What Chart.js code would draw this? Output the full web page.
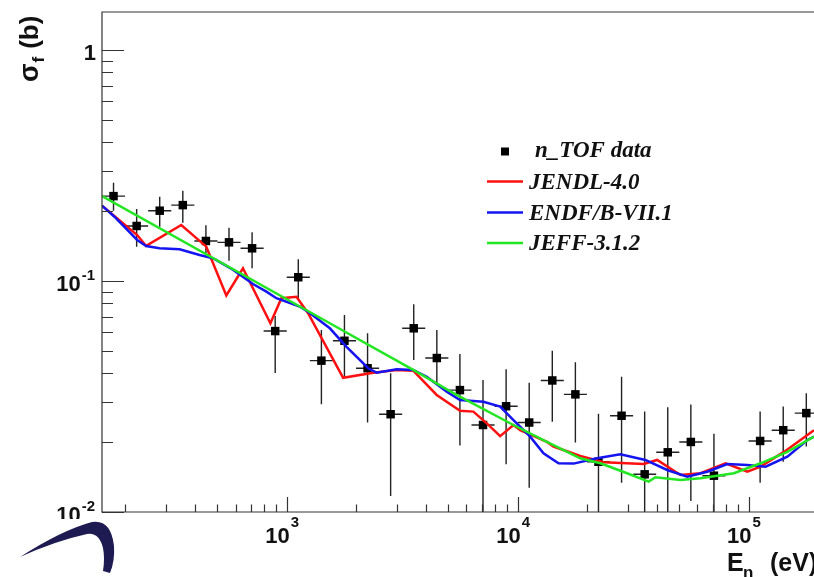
<!DOCTYPE html>
<html>
<head>
<meta charset="utf-8">
<script src="https://cdn.jsdelivr.net/npm/chart.js@4.4.0/dist/chart.umd.min.js"></script>
<style>
body { margin: 0; background: #fff; }
#wrap { position: relative; width: 814px; height: 577px; overflow: hidden; }
#logo { position: absolute; left: 0; top: 500px; }
</style>
</head>
<body>
<div id="wrap">
<canvas id="xsChart" width="814" height="577"></canvas>
<svg id="logo" width="130" height="77" viewBox="0 500 130 77">
  <path d="M 20 557 Q 62 530 92 522 Q 111 519 114 546 Q 115 561 110 573 L 103 571 Q 105 558 103 548 Q 99 532 87 534 Q 55 541 20 557 Z" fill="#1d1b52"/>
</svg>
</div>
<script>
// n_TOF measured points, 10 bins per decade (bin edges and centres in eV)
const binEdges = [158.5, 199.5, 251.2, 316.2, 398.1, 501.2, 631.0, 794.3, 1000, 1259, 1585, 1995, 2512, 3162, 3981, 5012, 6310, 7943,
    10000, 12589, 15849, 19953, 25119, 31623, 39811, 50119, 63096, 79433, 100000, 125893, 158489, 199526];
const tofE = [177.8, 223.9, 281.8, 354.8, 446.7, 562.3, 707.9, 891.3, 1122, 1413, 1778, 2239, 2818, 3548, 4467, 5623, 7079, 8913,
    11220, 14125, 17783, 22387, 28184, 35481, 44668, 56234, 70795, 89125, 112202, 141254, 177828];
const tofY = [0.233, 0.173, 0.2015, 0.213, 0.149, 0.147, 0.1385, 0.0607, 0.1038, 0.0452, 0.0551, 0.0419, 0.0265, 0.0624, 0.0464, 0.0337, 0.0238, 0.0287,
    0.0244, 0.0371, 0.0323, 0.0165, 0.0261, 0.01456, 0.01813, 0.0201, 0.01436, null, 0.0203, 0.0226, 0.0268];
const tofHi = [0.2665, 0.2049, 0.2317, 0.246, 0.1742, 0.1701, 0.1625, 0.0705, 0.1242, 0.0614, 0.0713, 0.0594, 0.0399, 0.0793, 0.0614, 0.0483, 0.0373, 0.0415,
    0.0363, 0.0499, 0.0445, 0.0266, 0.0385, 0.0272, 0.0284, 0.0292, 0.0218, null, 0.0272, 0.0286, 0.0327];
const tofLo = [0.2015, 0.1408, 0.1718, 0.1788, 0.1322, 0.1224, 0.1135, 0.04, 0.0833, 0.0293, 0.0385, 0.0244, 0.01173, 0.0455, 0.0355, 0.0194, 0.005, 0.0161,
    0.01274, 0.0246, 0.02, 0.005, 0.0134, 0.005, 0.005, 0.01116, 0.005, null, 0.0134, 0.0165, 0.0192];

// evaluated cross sections
const jendlE = [158.5, 225.1, 246.2, 349.4, 448.4, 547.5, 646.4, 849.8, 948.4, 1102, 1237, 1755, 2368, 2991, 3531, 4462, 5629, 6431, 7352, 8398,
    9590, 10250, 13390, 14300, 18670, 23570, 35140, 40180, 50700, 61920, 79470, 98720, 112700, 142300, 192000];
const jendlY = [0.2118, 0.1581, 0.1418, 0.1748, 0.1408, 0.0866, 0.1135, 0.0656, 0.0842, 0.0855, 0.0725, 0.0381, 0.0401, 0.0412, 0.0409, 0.0321, 0.0274, 0.0272, 0.0242, 0.0213,
    0.0238, 0.0226, 0.0201, 0.0192, 0.01748, 0.01641, 0.01614, 0.0168, 0.01446, 0.01471, 0.01625, 0.01494, 0.01571, 0.0182, 0.0226];

const endfE = [158.5, 179.4, 225.1, 246.2, 281.2, 343.5, 419.4, 478.9, 584.8, 714.1, 816.5, 902.3, 1139, 1237, 1537, 1816, 2253, 2450, 2991, 3531, 4037,
    4931, 5629, 7106, 8398, 9590, 11330, 12940, 15030, 17470, 22060, 27840, 35740, 44390, 54230, 66210, 80840, 98720, 118500, 147200, 179800, 192000];
const endfY = [0.2118, 0.1898, 0.1505, 0.1418, 0.1385, 0.1371, 0.1296, 0.1254, 0.112, 0.097, 0.0899, 0.0842, 0.0774, 0.0736, 0.0624, 0.0519, 0.0419, 0.0401, 0.0415, 0.0412, 0.0385,
    0.0332, 0.0305, 0.03, 0.0286, 0.025, 0.0212, 0.01795, 0.01625, 0.0162, 0.01708, 0.01778, 0.0168, 0.0152, 0.01421, 0.01494, 0.01614, 0.01598, 0.01571, 0.01736, 0.0205, 0.0212];

const jeffE = [158.5, 1537, 3531, 5266, 9590, 13390, 18670, 22810, 29770, 36940, 39500, 50700, 61920, 86370, 112700, 147200, 192000];
const jeffY = [0.2333, 0.0656, 0.0412, 0.0327, 0.0238, 0.0201, 0.01708, 0.01625, 0.01471, 0.01353, 0.01413, 0.01376, 0.01399, 0.01471, 0.01625, 0.0182, 0.0212];

// axes
const xTickValues = [1000, 10000, 100000];
const xTickExp = ['3', '4', '5'];
const yTickValues = [1, 0.1, 0.01];
const yTickBase = ['1', '10', '10'];
const yTickExp = ['', '-1', '-2'];

function pairs(xs, ys) {
    return xs.map((x, i) => ({ x: x, y: ys[i] }));
}

function minorTicks(lo, hi) {
    const out = [];
    for (let d = Math.pow(10, Math.floor(Math.log10(lo))); d < hi; d *= 10) {
        for (let m = 2; m <= 9; m++) {
            const v = m * d;
            if (v > lo && v < hi) out.push(v);
        }
    }
    return out;
}

const errorBars = {
    id: 'errorBars',
    beforeDatasetsDraw(chart) {
        const ctx = chart.ctx, a = chart.chartArea;
        const xs = chart.scales.x, ys = chart.scales.y;
        ctx.save();
        ctx.beginPath();
        ctx.rect(a.left, a.top, a.right - a.left, a.bottom - a.top);
        ctx.clip();
        ctx.strokeStyle = '#222';
        ctx.lineWidth = 1.4;
        tofE.forEach((e, i) => {
            if (tofY[i] === null) return;
            const px = xs.getPixelForValue(e);
            const py = ys.getPixelForValue(tofY[i]);
            ctx.beginPath();
            ctx.moveTo(px, ys.getPixelForValue(tofHi[i]));
            ctx.lineTo(px, ys.getPixelForValue(tofLo[i]));
            ctx.moveTo(xs.getPixelForValue(binEdges[i]), py);
            ctx.lineTo(xs.getPixelForValue(binEdges[i + 1]), py);
            ctx.stroke();
        });
        ctx.restore();
    }
};

const frameAndLabels = {
    id: 'frameAndLabels',
    afterDraw(chart) {
        const ctx = chart.ctx, a = chart.chartArea;
        const xs = chart.scales.x, ys = chart.scales.y;
        ctx.save();
        ctx.strokeStyle = '#333';
        ctx.lineWidth = 1.2;
        ctx.beginPath();
        ctx.moveTo(a.right + 2, a.top);
        ctx.lineTo(a.left, a.top);
        ctx.lineTo(a.left, a.bottom);
        ctx.lineTo(a.right + 2, a.bottom);
        ctx.stroke();

        ctx.beginPath();
        minorTicks(xs.min, xs.max).forEach(v => {
            const px = Math.round(xs.getPixelForValue(v)) + 0.5;
            ctx.moveTo(px, a.bottom); ctx.lineTo(px, a.bottom - 7.5);
        });
        xTickValues.forEach(v => {
            const px = Math.round(xs.getPixelForValue(v)) + 0.5;
            ctx.moveTo(px, a.bottom); ctx.lineTo(px, a.bottom - 15);
        });
        minorTicks(ys.min, ys.max).forEach(v => {
            const py = Math.round(ys.getPixelForValue(v)) + 0.5;
            ctx.moveTo(a.left, py); ctx.lineTo(a.left + 11, py);
        });
        yTickValues.forEach(v => {
            const py = Math.round(ys.getPixelForValue(v)) + 0.5;
            ctx.moveTo(a.left, py); ctx.lineTo(a.left + 22, py);
        });
        ctx.stroke();

        // tick labels
        ctx.fillStyle = '#111';
        ctx.textBaseline = 'alphabetic';
        xTickValues.forEach((v, i) => {
            const px = xs.getPixelForValue(v);
            ctx.font = 'bold 22px "Liberation Sans", Arial, sans-serif';
            ctx.textAlign = 'right';
            ctx.fillText('10', px + 3, a.bottom + 31);
            ctx.font = 'bold 15px "Liberation Sans", Arial, sans-serif';
            ctx.textAlign = 'left';
            ctx.fillText(xTickExp[i], px + 4, a.bottom + 15);
        });
        yTickValues.forEach((v, i) => {
            const py = ys.getPixelForValue(v);
            const right = a.left - 7;
            ctx.save();
            ctx.beginPath();
            ctx.rect(0, 0, a.left, 519);
            ctx.clip();
            ctx.font = 'bold 15px "Liberation Sans", Arial, sans-serif';
            const w = yTickExp[i] ? ctx.measureText(yTickExp[i]).width + 1 : 0;
            ctx.textAlign = 'right';
            if (yTickExp[i]) ctx.fillText(yTickExp[i], right, py - 1);
            ctx.font = 'bold 22px "Liberation Sans", Arial, sans-serif';
            ctx.fillText(yTickBase[i], right - w + (w ? 0 : 1), py + 10);
            ctx.restore();
        });

        // y title
        ctx.save();
        ctx.translate(37.5, 82);
        ctx.rotate(-Math.PI / 2);
        ctx.textAlign = 'left';
        ctx.font = 'bold 27px "Liberation Sans", Arial, sans-serif';
        ctx.fillText('σ', 0, 0);
        let off = ctx.measureText('σ').width + 1;
        ctx.font = 'bold 17px "Liberation Sans", Arial, sans-serif';
        ctx.fillText('f', off, 6);
        off += ctx.measureText('f').width + 8;
        ctx.font = 'bold 26px "Liberation Sans", Arial, sans-serif';
        ctx.fillText('(b)', off, 0);
        ctx.restore();

        // x title
        ctx.textAlign = 'left';
        ctx.font = 'bold 25px "Liberation Sans", Arial, sans-serif';
        ctx.fillText('E', 727, 571);
        ctx.font = 'bold 17px "Liberation Sans", Arial, sans-serif';
        ctx.fillText('n', 743, 578);
        ctx.font = 'bold 25px "Liberation Sans", Arial, sans-serif';
        ctx.fillText('(eV)', 770, 571);

        // legend
        const ds = chart.data.datasets;
        const rows = [151.5, 181.5, 212.5, 243];
        ctx.font = 'italic bold 23px "Liberation Serif", "Times New Roman", serif';
        ds.forEach((d, i) => {
            const y = rows[i];
            if (d.showLine) {
                ctx.strokeStyle = d.borderColor;
                ctx.lineWidth = 2.5;
                ctx.beginPath();
                ctx.moveTo(487, y); ctx.lineTo(523, y);
                ctx.stroke();
                ctx.fillStyle = '#111';
                ctx.fillText(d.label, 529, y + 7);
            } else {
                ctx.fillStyle = '#000';
                ctx.fillRect(501, y - 4, 8, 8);
                ctx.fillStyle = '#111';
                ctx.fillText(d.label, 535, y + 5);
            }
        });
        ctx.restore();
    }
};

const ctx = document.getElementById('xsChart').getContext('2d');
const xsChart = new Chart(ctx, {
    type: 'scatter',
    data: {
        datasets: [{
            label: 'n_TOF data',
            data: pairs(tofE, tofY),
            pointStyle: 'rect',
            pointRadius: 6,
            backgroundColor: '#000',
            borderColor: '#000',
            borderWidth: 0,
            order: 4
        }, {
            label: 'JENDL-4.0',
            data: pairs(jendlE, jendlY),
            showLine: true,
            pointRadius: 0,
            borderColor: '#ff1010',
            borderWidth: 2.5,
            tension: 0,
            order: 3
        }, {
            label: 'ENDF/B-VII.1',
            data: pairs(endfE, endfY),
            showLine: true,
            pointRadius: 0,
            borderColor: '#1414f0',
            borderWidth: 2.5,
            tension: 0,
            order: 2
        }, {
            label: 'JEFF-3.1.2',
            data: pairs(jeffE, jeffY),
            showLine: true,
            pointRadius: 0,
            borderColor: '#22e622',
            borderWidth: 2.5,
            tension: 0,
            order: 1
        }]
    },
    options: {
        responsive: false,
        animation: false,
        layout: { autoPadding: false, padding: { left: 102, top: 12, right: 0, bottom: 65 } },
        plugins: {
            legend: { display: false },
            tooltip: { enabled: false }
        },
        scales: {
            x: { type: 'logarithmic', min: 158.5, max: 192000, display: false },
            y: { type: 'logarithmic', min: 0.01, max: 1.46, display: false }
        }
    },
    plugins: [errorBars, frameAndLabels]
});
</script>
</body>
</html>
